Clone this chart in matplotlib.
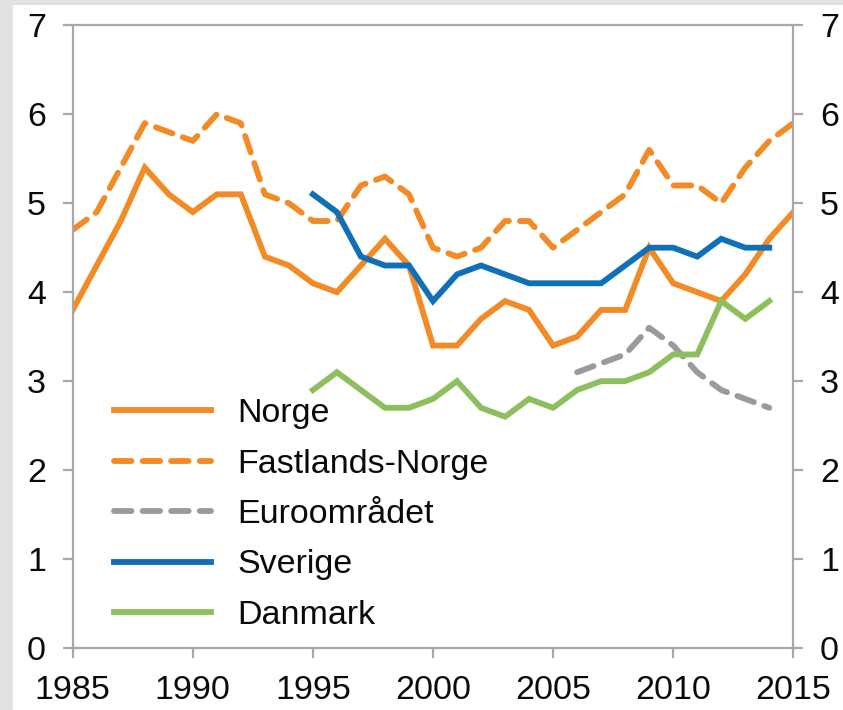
import matplotlib
matplotlib.use("Agg")
import matplotlib.pyplot as plt
from matplotlib.patches import Rectangle
import numpy as np

plt.rcParams['font.family'] = ['Liberation Sans', 'DejaVu Sans']

years_norge = list(range(1985, 2016))
norge = [3.8, 4.3, 4.8, 5.4, 5.1, 4.9, 5.1, 5.1, 4.4, 4.3, 4.1, 4.0, 4.3, 4.6, 4.3,
         3.4, 3.4, 3.7, 3.9, 3.8, 3.4, 3.5, 3.8, 3.8, 4.5, 4.1, 4.0, 3.9, 4.2, 4.6, 4.9]
fastland = [4.7, 4.9, 5.4, 5.9, 5.8, 5.7, 6.0, 5.9, 5.1, 5.0, 4.8, 4.8, 5.2, 5.3, 5.1,
            4.5, 4.4, 4.5, 4.8, 4.8, 4.5, 4.7, 4.9, 5.1, 5.6, 5.2, 5.2, 5.0, 5.4, 5.7, 5.9]
years_euro = list(range(2006, 2015))
euro = [3.1, 3.2, 3.3, 3.6, 3.4, 3.1, 2.9, 2.8, 2.7]
years_se = list(range(1995, 2015))
sverige = [5.1, 4.9, 4.4, 4.3, 4.3, 3.9, 4.2, 4.3, 4.2, 4.1, 4.1, 4.1, 4.1, 4.3, 4.5,
           4.5, 4.4, 4.6, 4.5, 4.5]
years_dk = list(range(1995, 2015))
danmark = [2.9, 3.1, 2.9, 2.7, 2.7, 2.8, 3.0, 2.7, 2.6, 2.8, 2.7, 2.9, 3.0, 3.0, 3.1,
           3.3, 3.3, 3.9, 3.7, 3.9]

labels = ['Norge', 'Fastlands-Norge', 'Euroområdet', 'Sverige', 'Danmark']
xticks = [1985, 1990, 1995, 2000, 2005, 2010, 2015]
yticks = [0, 1, 2, 3, 4, 5, 6, 7]

ORANGE = '#F28A25'
BLUE = '#0F70B7'
GREY = '#999A9E'
GREEN = '#8DBF5E'
AXC = '#A8A8AA'

fig = plt.figure(figsize=(8.43, 7.10), dpi=100, facecolor='#E2E2E2')
fig.patches.append(Rectangle((13/843, 0), 830/843, 705/710, transform=fig.transFigure,
                             facecolor='white', edgecolor='none', zorder=-10))
ax = fig.add_axes([72.7/843, 62/710, 720.6/843, 622.7/710])
ax.set_zorder(5)
ax.set_facecolor('none')

lw = 4.2
dash = (0, (3.0, 1.9))
ax.plot(years_norge, norge, color=ORANGE, lw=lw, label=labels[0], solid_joinstyle='miter')
ax.plot(years_norge, fastland, color=ORANGE, lw=lw, ls=dash, dash_capstyle='round',
        label=labels[1])
ax.plot(years_euro, euro, color=GREY, lw=lw, ls=dash, dash_capstyle='round',
        label=labels[2])
ax.plot(years_se, sverige, color=BLUE, lw=lw, label=labels[3], solid_joinstyle='miter')
ax.plot(years_dk, danmark, color=GREEN, lw=lw, label=labels[4], solid_joinstyle='miter')

ax.set_xlim(1985, 2015)
ax.set_ylim(0, 7)
ax.set_xticks(xticks)
ax.set_yticks(yticks)
for s in ax.spines.values():
    s.set_color(AXC)
    s.set_linewidth(1.6)
ax.tick_params(axis='both', direction='out', length=7.2, width=1.6, color=AXC,
               labelsize=24.5, labelcolor='#0a0a0a')
ax.tick_params(axis='y', left=True, right=True, labelleft=True, labelright=True, pad=12)
ax.tick_params(axis='x', pad=12)

leg = ax.legend(loc='upper left', bbox_to_anchor=(0.058, 0.401), frameon=False,
                fontsize=24.5, handlelength=2.85, handletextpad=0.75,
                labelspacing=0.57, borderpad=0, borderaxespad=0)
for t in leg.get_texts():
    t.set_color('#0a0a0a')

fig.savefig('out.png', dpi=100, facecolor=fig.get_facecolor())
